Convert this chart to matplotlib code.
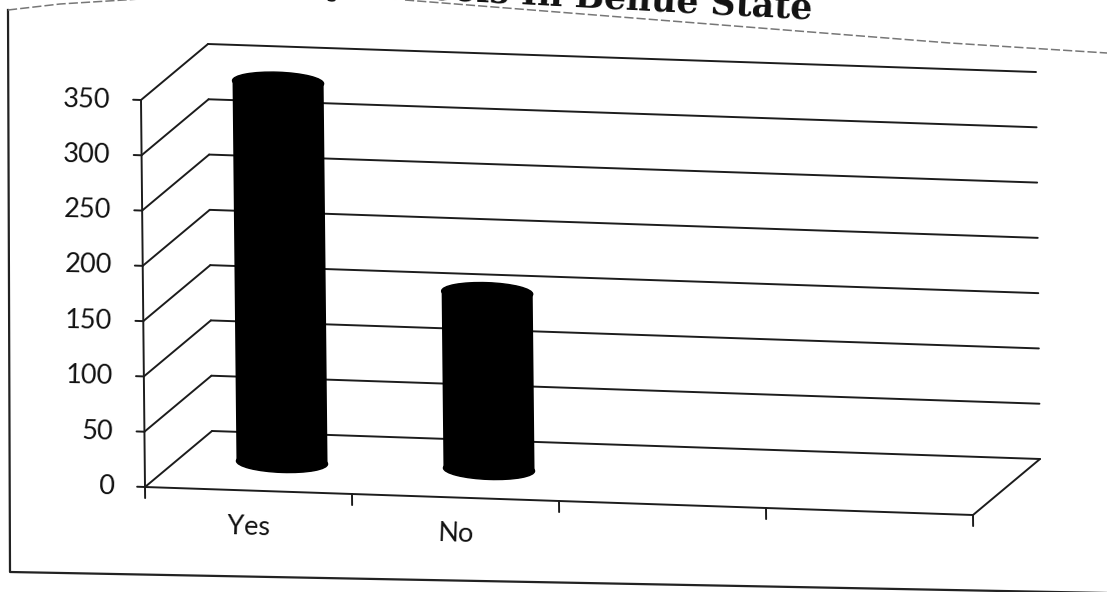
import matplotlib.pyplot as plt
import matplotlib.transforms as mtransforms
from matplotlib.patches import Ellipse
import numpy as np

# chart data
categories = ["Yes", "No", "", ""]
values = [344, 160]
y_ticks = [0, 50, 100, 150, 200, 250, 300, 350]
title = "Availability of ICT Facilities in Secondary Schools In Benue State"

fig = plt.figure(figsize=(11.07, 5.92), dpi=100)
ax = fig.add_axes([0, 0, 1, 1])
ax.set_xlim(0, 1107)
ax.set_ylim(592, 0)
ax.axis('off')

# oblique 3d projection (as it sits on the slightly tilted scan)
origin = np.array([145.0, 487.0])
eu = np.array([207.0, 7.0])          # one category step
ev = np.array([-4 / 350, -1.1057])   # one value unit
ed = np.array([67.0, -56.0])         # full depth


def plane(a, b, shift):
    o = origin + shift
    m = np.array([[a[0], b[0], o[0]], [a[1], b[1], o[1]], [0, 0, 1]])
    return mtransforms.Affine2D(m) + ax.transData


def wall(d):    # (category, value) at depth d
    return plane(eu, ev, d * ed)


def side(u):    # (depth, value) at category position u
    return plane(ed, ev, u * eu)


def floor(v):   # (category, depth) at value v
    return plane(eu, ed, v * ev)


n = len(categories)
line_kw = dict(color='#1c1c1c', lw=1.4, solid_capstyle='round')

# back wall gridlines + side wall diagonals
for v in y_ticks:
    ax.plot([0, n], [v, v], transform=wall(1), **line_kw)
    ax.plot([0, 1], [v, v], transform=side(0), **line_kw)
    ax.plot([-0.038, 0], [v, v], transform=wall(0), **line_kw)
    ax.text(0, v, str(v), transform=mtransforms.offset_copy(wall(0), x=-31, y=0, units='dots'),
            ha='right', va='center', fontsize=19.5, family='Lato', rotation=-1.2,
            rotation_mode='anchor', color='#111')

# floor edges and value axis
ax.plot([0, n], [0, 0], transform=floor(0), **line_kw)
ax.plot([n, n], [0, 1], transform=floor(0), **line_kw)
ax.plot([0, 0], [0, y_ticks[-1]], transform=wall(0), **line_kw)
for u in range(n + 1):
    ax.plot([u, u], [0, -10], transform=wall(0), **line_kw)
for u, lab in enumerate(categories):
    ax.text(u + 0.5, 0, lab, transform=mtransforms.offset_copy(wall(0), x=0, y=-37, units='dots'),
            ha='center', va='center', fontsize=19.5, family='Lato', rotation=-1.8,
            rotation_mode='anchor', color='#111')

# cylinders
pos = np.arange(len(values)) + 0.5
bw = 0.44
ax.bar(pos, values, width=bw, color='black', transform=wall(0.5), zorder=3)
for p, v in zip(pos, values):
    for yv in (0, v):
        ax.add_patch(Ellipse((p, yv), bw, 18, color='black', transform=wall(0.5), zorder=3))

ax.set_xlim(0, 1107)
ax.set_ylim(592, 0)

# scanned chart-area border
ax.plot([8, 10, 1107], [10, 572, 593], color='#222', lw=1.6)
ax.plot([8, 60, 140], [10, 4, -1], color='#777', lw=1.1, ls=(0, (6, 2)))
ax.plot([405, 950, 1107], [0, 43, 53], color='#777', lw=1.1, ls=(0, (6, 2)))

# title, mostly cut off by the top of the scan
ax.text(812, 19, title, ha='right', va='baseline', rotation=-3, rotation_mode='anchor',
        fontsize=25, fontweight='bold', family='DejaVu Serif', color='#111')

fig.savefig('out.png', dpi=100)
